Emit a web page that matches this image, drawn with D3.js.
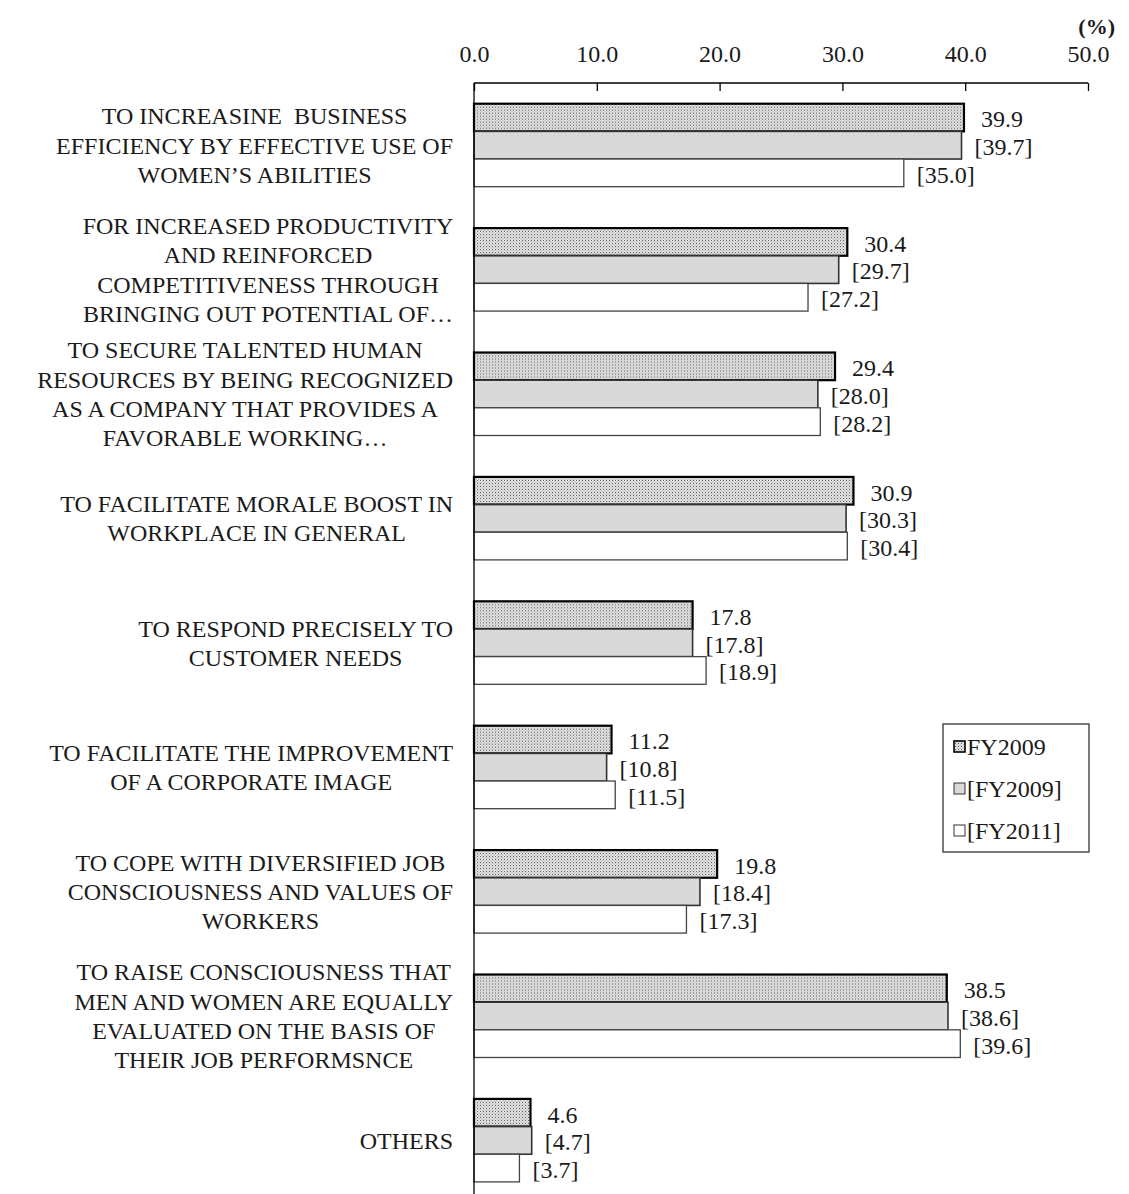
<!DOCTYPE html>
<html>
<head>
<meta charset="utf-8">
<script src="https://cdn.jsdelivr.net/npm/d3@7"></script>
<style>
  body { margin: 0; background: #fff; }
  text { font-family: "Liberation Serif", "Times New Roman", serif; fill: #1a1a1a; }
  .catlabel { white-space: pre; }
</style>
</head>
<body>
<svg id="chart" width="1129" height="1194"></svg>
<script>
// ---- data ----
var categories = [
  ["TO INCREASINE  BUSINESS", "EFFICIENCY BY EFFECTIVE USE OF", "WOMEN\u2019S ABILITIES"],
  ["FOR INCREASED PRODUCTIVITY", "AND REINFORCED", "COMPETITIVENESS THROUGH", "BRINGING OUT POTENTIAL OF\u2026"],
  ["TO SECURE TALENTED HUMAN", "RESOURCES BY BEING RECOGNIZED", "AS A COMPANY THAT PROVIDES A", "FAVORABLE WORKING\u2026"],
  ["TO FACILITATE MORALE BOOST IN", "WORKPLACE IN GENERAL"],
  ["TO RESPOND PRECISELY TO", "CUSTOMER NEEDS"],
  ["TO FACILITATE THE IMPROVEMENT", "OF A CORPORATE IMAGE"],
  ["TO COPE WITH DIVERSIFIED JOB", "CONSCIOUSNESS AND VALUES OF", "WORKERS"],
  ["TO RAISE CONSCIOUSNESS THAT", "MEN AND WOMEN ARE EQUALLY", "EVALUATED ON THE BASIS OF", "THEIR JOB PERFORMSNCE"],
  ["OTHERS"]
];
var seriesNames = ["FY2009", "[FY2009]", "[FY2011]"];
var fy2009 = [39.9, 30.4, 29.4, 30.9, 17.8, 11.2, 19.8, 38.5, 4.6];
var fy2009b = [39.7, 29.7, 28.0, 30.3, 17.8, 10.8, 18.4, 38.6, 4.7];
var fy2011 = [35.0, 27.2, 28.2, 30.4, 18.9, 11.5, 17.3, 39.6, 3.7];
var xTicks = [0, 10, 20, 30, 40, 50];

var seriesValues = [fy2009, fy2009b, fy2011];

var svg = d3.select("#chart");

// dotted pattern for the first series
var defs = svg.append("defs");
var pat = defs.append("pattern")
  .attr("id", "dots")
  .attr("patternUnits", "userSpaceOnUse")
  .attr("width", 3).attr("height", 3);
pat.append("rect").attr("width", 3).attr("height", 3).attr("fill", "#e6e6e6");
pat.append("rect").attr("x", 0).attr("y", 0).attr("width", 1).attr("height", 1).attr("fill", "#505050");
pat.append("rect").attr("x", 1.5).attr("y", 1.5).attr("width", 1).attr("height", 1).attr("fill", "#8a8a8a");

var x = d3.scaleLinear().domain([0, 50]).range([474, 1088]);

var y = d3.scaleBand()
  .domain(d3.range(categories.length))
  .range([83, 83 + 124.4 * categories.length])
  .paddingInner(0.333)
  .paddingOuter(0.1665);

var ySub = d3.scaleBand()
  .domain(d3.range(3))
  .range([0, y.bandwidth()]);

var fills = ["url(#dots)", "#d9d9d9", "#ffffff"];
var strokes = ["#000", "#333", "#444"];
var strokeW = [2.2, 1.6, 1.3];

// top axis
var xAxis = d3.axisTop(x)
  .tickValues(xTicks)
  .tickFormat(d3.format(".1f"))
  .tickSize(-8)
  .tickPadding(21);

var gx = svg.append("g")
  .attr("transform", "translate(0,83)")
  .call(xAxis);
gx.select(".domain").attr("d", "M474,0H1088").attr("stroke", "#000").attr("stroke-width", 1.3);
gx.selectAll(".tick line").attr("stroke", "#000").attr("stroke-width", 1.3);
gx.selectAll(".tick text")
  .attr("font-family", "Liberation Serif")
  .attr("font-size", 24)
  .attr("fill", "#1a1a1a");

svg.append("text")
  .attr("x", 1115).attr("y", 34)
  .attr("text-anchor", "end")
  .attr("font-size", 22)
  .attr("font-weight", "bold")
  .text("(%)");

// bars
var groups = svg.selectAll("g.cat")
  .data(categories)
  .enter().append("g")
  .attr("class", "cat")
  .attr("transform", (d, i) => "translate(0," + y(i) + ")");

seriesValues.forEach(function (vals, s) {
  groups.append("rect")
    .attr("x", x(0))
    .attr("y", ySub(s))
    .attr("width", (d, i) => x(vals[i]) - x(0))
    .attr("height", ySub.bandwidth())
    .attr("fill", fills[s])
    .attr("stroke", strokes[s])
    .attr("stroke-width", strokeW[s]);

  groups.append("text")
    .attr("x", (d, i) => x(vals[i]) + (s == 0 ? 17 : 13))
    .attr("y", ySub(s) + ySub.bandwidth() / 2 + 1.5)
    .attr("dy", "0.35em")
    .attr("font-size", 24)
    .text((d, i) => s == 0 ? vals[i].toFixed(1) : "[" + vals[i].toFixed(1) + "]");
});

// left axis line
svg.append("line")
  .attr("x1", x(0)).attr("x2", x(0))
  .attr("y1", 83).attr("y2", 1194)
  .attr("stroke", "#000").attr("stroke-width", 1.3);

// category labels: block right-aligned, lines centred inside the block
var lineH = 29.3;
groups.each(function (lines, i) {
  var g = d3.select(this);
  var t = g.append("text")
    .attr("class", "catlabel")
    .attr("font-size", 24)
    .attr("text-anchor", "middle");
  var spans = t.selectAll("tspan")
    .data(lines)
    .enter().append("tspan")
    .text(d => d);
  var maxW = 0;
  spans.each(function () { maxW = Math.max(maxW, this.getComputedTextLength()); });
  var cx = 453 - maxW / 2;
  var cy = y.bandwidth() / 2;
  spans
    .attr("x", cx)
    .attr("y", (d, j) => cy + (j - (lines.length - 1) / 2) * lineH)
    .attr("dy", "0.35em");
});

// legend
var legend = svg.append("g").attr("transform", "translate(943,724)");
legend.append("rect")
  .attr("width", 146).attr("height", 128)
  .attr("fill", "#fff")
  .attr("stroke", "#333").attr("stroke-width", 1.3);

var items = legend.selectAll("g.item")
  .data(seriesNames)
  .enter().append("g")
  .attr("class", "item")
  .attr("transform", (d, i) => "translate(0," + (22 + i * 42) + ")");

items.append("rect")
  .attr("x", 11).attr("y", -5)
  .attr("width", 11).attr("height", 11)
  .attr("fill", (d, i) => fills[i])
  .attr("stroke", (d, i) => i == 0 ? "#000" : "#333")
  .attr("stroke-width", (d, i) => i == 0 ? 1.6 : 1);

items.append("text")
  .attr("x", 24)
  .attr("y", 1)
  .attr("dy", "0.35em")
  .attr("font-size", 24)
  .text(d => d);
</script>
</body>
</html>
